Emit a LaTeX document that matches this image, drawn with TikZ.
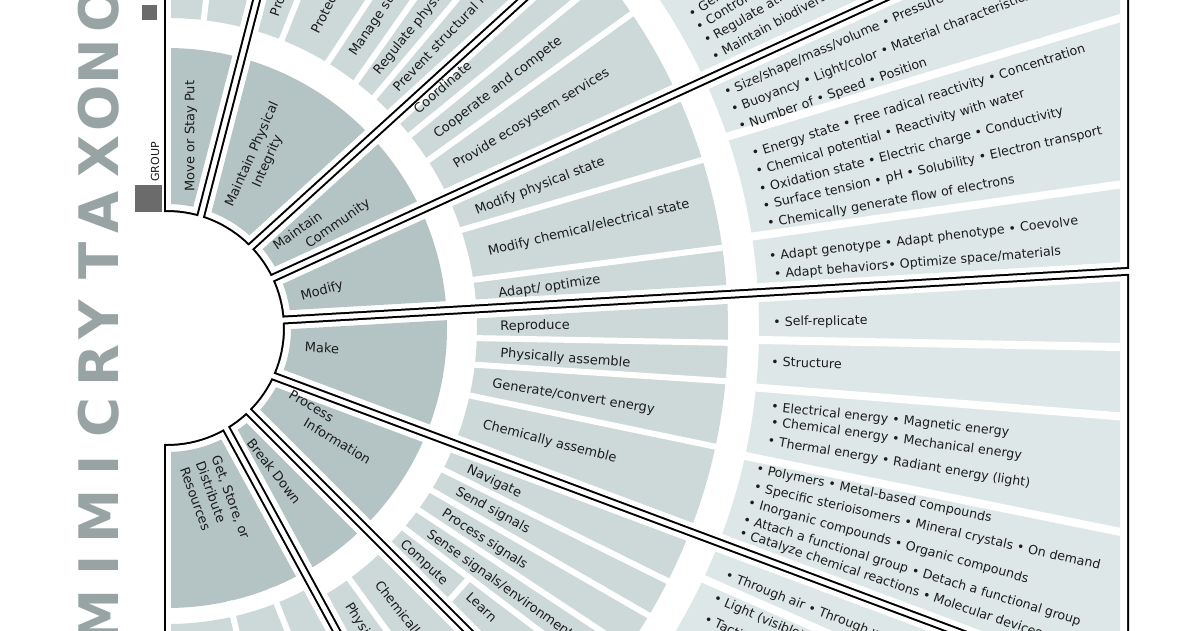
\documentclass[tikz,border=0pt]{standalone}
\usepackage{fontspec}
\setmainfont{DejaVu Sans}
\usetikzlibrary{calc}

\definecolor{ringa}{RGB}{180,196,196}
\definecolor{ringb}{RGB}{205,217,217}
\definecolor{ringc}{RGB}{222,231,231}
\definecolor{titlegray}{RGB}{152,164,164}
\definecolor{boxgray}{RGB}{107,107,107}
\definecolor{inktext}{RGB}{28,28,28}

\tikzset{
	grouplabel/.style={font=\fontsize{7.4}{9.6}\selectfont, text=inktext, inner sep=0pt},
	subtext/.style={font=\fontsize{7.4}{9}\selectfont, text=inktext, anchor=west, inner sep=0pt},
	bullet/.style={font=\fontsize{7.2}{8.6}\selectfont, text=inktext, anchor=west, inner sep=0pt},
	gapb/.style={white, line width=0.12cm},
	gapc/.style={white, line width=0.16cm},
	titleletter/.style={font=\fontsize{31}{31}\selectfont\bfseries, text=titlegray, rotate=90, anchor=base, inner sep=0pt},
}

% borders of one group, moved inwards by #5
\newcommand{\setwedge}[5]{%
	\coordinate (ua) at ($(#1)+(#2-90:#5)$);
	\coordinate (la) at ($(#3)+(#4+90:#5)$);
	\coordinate (ub) at ($(ua)+(#2:100)$);
	\coordinate (lb) at ($(la)+(#4:100)$);
	\coordinate (wx) at ($(ua)!(0,0)!(ub)$);
	\coordinate (wy) at ($(la)!(0,0)!(lb)$);
	\coordinate (uf) at ($(ua)+(#2:2500)$);
	\coordinate (lf) at ($(la)+(#4:2500)$);
}
% one group: frame, rings, gaps (#6), texts (#7)
\newcommand{\drawgroup}[7]{%
	\begin{scope}
		\setwedge{#1}{#2}{#3}{#4}{2.5}
		\clip (wx) -- (uf) -- (lf) -- (wy) -- cycle;
		\fill[black, even odd rule] (-300,-500) rectangle (962,500) (0,0) circle (116);
	\end{scope}
	\begin{scope}
		\setwedge{#1}{#2}{#3}{#4}{4.5}
		\clip (wx) -- (uf) -- (lf) -- (wy) -- cycle;
		\fill[white, even odd rule] (-300,-500) rectangle (960,500) (0,0) circle (118);
	\end{scope}
	\begin{scope}
		\setwedge{#1}{#2}{#3}{#4}{9.5}
		\clip (wx) -- (uf) -- (lf) -- (wy) -- cycle;
		\clip (-300,-500) rectangle (953,500);
		\fill[ringa, even odd rule] (0,0) circle (280) (0,0) circle (124);
		\fill[ringb, even odd rule] (0,0) circle (561) (0,0) circle (#5);
		\fill[ringc, even odd rule] (0,0) circle (2000) (0,0) circle (592);
		#6
	\end{scope}
	\begin{scope}
		\setwedge{#1}{#2}{#3}{#4}{4.5}
		\clip (wx) -- (uf) -- (lf) -- (wy) -- cycle;
		#7
	\end{scope}
}

\begin{document}
\begin{tikzpicture}[x=0.02cm, y=0.02cm]
	\useasboundingbox (-167,-302) rectangle (1033,328);
	\clip (-167,-302) rectangle (1033,328);
	% title
		\foreach \ch/\ty [count=\i] in {M/-288, I/-237, M/-188, I/-137, C/-90, R/-38, Y/8, T/67, A/116, X/172, O/220, N/266, O/319}
			\node[titleletter] (title-\i) at (-49,\ty) {\ch};
		\fill[boxgray] (-25,308) rectangle (-10,323);
		\fill[boxgray] (-32,116) rectangle (-5,143);
		\node[font=\fontsize{6.3}{6.3}\selectfont, text=inktext, rotate=90, anchor=base, inner sep=0pt] (grouptag) at (-8,166) {GROUP};
	% move or stay put
	\drawgroup{-5.5,0}{90}{34,113}{75.5}{310}{
		\draw[gapb] (83.2:300) -- (83.2:575);
	}{
		\node[grouplabel, rotate=90] (msp) at (24,192) {Move or Stay Put};
	}
	% maintain physical integrity
	\drawgroup{34,113}{75.5}{86,83}{42.3}{310}{
		\draw[gapb] (68.3:300) -- (68.3:575);
		\draw[gapb] (58.9:300) -- (57.8:575);
		\draw[gapb] (52.4:300) -- (53.6:575);
		\draw[gapb] (48:300) -- (48.9:575);
	}{
		\node[grouplabel, rotate=66, align=center] (mpi) at (93,170) {Maintain Physical\\Integrity};
		\node[subtext, rotate=71] (mpi-1) at (70.9:330) {Protect from living threats};
		\node[subtext, rotate=63.5] (mpi-2) at (63.3:330) {Protect from non-living threats};
		\node[subtext, rotate=56] (mpi-3) at (55.8:330) {Manage structural forces};
		\node[subtext, rotate=51] (mpi-4) at (50.6:330) {Regulate physiological processes};
		\node[subtext, rotate=46.5] (mpi-5) at (46.3:330) {Prevent structural failure};
	}
	% maintain community
	\drawgroup{86,83}{42.3}{108,51}{24.6}{310}{
		\draw[gapb] (38.4:300) -- (38.8:575);
		\draw[gapb] (32.6:300) -- (34.1:575);
	}{
		\node[grouplabel, rotate=35, align=left] (mc) at (155,103) {Maintain\\\hspace*{2.1em}Community};
		\node[subtext, rotate=41] (mc-1) at (41.2:330) {Coordinate};
		\node[subtext, rotate=37.5] (mc-2) at (35.6:330) {Cooperate and compete};
		\node[subtext, rotate=31.5] (mc-3) at (29.4:330) {Provide ecosystem services};
		\node[bullet, rotate=32] (mc-a1) at (31:609) {• Generate soil};
		\node[bullet, rotate=31] (mc-a2) at (29.6:609) {• Control erosion};
		\node[bullet, rotate=30] (mc-a3) at (28:609) {• Regulate atmosphere};
		\node[bullet, rotate=28.7] (mc-a4) at (26.3:609) {• Maintain biodiversity};
	}
	% modify
	\drawgroup{108,51}{24.6}{117,8}{3.3}{310}{
		\draw[gapb] (18.5:300) -- (17.4:575);
		\draw[gapb] (9:300) -- (8.2:575);
		\draw[gapc] (18.9:580) -- (17.9:1100);
		\draw[gapc] (8.9:580) -- (8.5:1100);
	}{
		\node[grouplabel, rotate=15] (mod) at (155,37) {Modify};
		\node[subtext, rotate=21] (mod-1) at (20.8:330) {Modify physical state};
		\node[subtext, rotate=13.5] (mod-2) at (13.3:330) {Modify chemical/electrical state};
		\node[subtext, rotate=8] (mod-3) at (5.8:333) {Adapt/ optimize};
		\node[bullet, rotate=23.7] (mod-a1) at (22.8:605) {• Size/shape/mass/volume • Pressure};
		\node[bullet, rotate=21] (mod-a2) at (21.1:605) {• Buoyancy • Light/color • Material characteristics};
		\node[bullet, rotate=19.2] (mod-a3) at (19.3:606) {• Number of • Speed • Position};
		\node[bullet, rotate=17.7] (mod-b1) at (16.5:610) {• Energy state • Free radical reactivity • Concentration};
		\node[bullet, rotate=16.3] (mod-b2) at (14.8:609) {• Chemical potential • Reactivity with water};
		\node[bullet, rotate=14.5] (mod-b3) at (13.1:608) {• Oxidation state • Electric charge • Conductivity};
		\node[bullet, rotate=12.6] (mod-b4) at (11.5:608) {• Surface tension • pH • Solubility • Electron transport};
		\node[bullet, rotate=10.2] (mod-b5) at (9.8:609) {• Chemically generate flow of electrons};
		\node[bullet, rotate=6.6] (mod-c1) at (6.7:606) {• Adapt genotype • Adapt phenotype • Coevolve};
		\node[bullet, rotate=4.6] (mod-c2) at (5:609) {• Adapt behaviors• Optimize space/materials};
	}
	% make
	\drawgroup{117,8}{3.3}{90,-42}{-20.5}{310}{
		\draw[gapb] (-1.9:300) -- (-1.5:575);
		\draw[gapb] (-6.9:300) -- (-5.4:575);
		\draw[gapb] (-12.6:300) -- (-12.2:575);
		\draw[gapc] (-1.16:580) -- (-1.14:1100);
		\draw[gapc] (-5.8:580) -- (-5.2:1100);
		\draw[gapc] (-12.5:580) -- (-12:1100);
	}{
		\node[grouplabel, rotate=-3] (make) at (155,-20) {Make};
		\node[subtext, rotate=1] (make-1) at (0.2:333) {Reproduce};
		\node[subtext, rotate=-4.5] (make-2) at (-4.4:334) {Physically assemble};
		\node[subtext, rotate=-9] (make-3) at (-9.8:330) {Generate/convert energy};
		\node[subtext, rotate=-14.5] (make-4) at (-17:330) {Chemically assemble};
		\node[bullet, rotate=0.9] (make-a1) at (0.5:606) {• Self-replicate};
		\node[bullet, rotate=-1.75] (make-b1) at (-3.2:605) {• Structure};
		\node[bullet, rotate=-6] (make-c1) at (-7.5:609) {• Electrical energy • Magnetic energy};
		\node[bullet, rotate=-7.6] (make-c2) at (-8.9:611) {• Chemical energy • Mechanical energy};
		\node[bullet, rotate=-9.2] (make-c3) at (-10.7:611) {• Thermal energy • Radiant energy (light)};
		\node[bullet, rotate=-11.8] (make-d1) at (-13.5:606) {• Polymers • Metal-based compounds};
		\node[bullet, rotate=-12.8] (make-d2) at (-15.2:608) {• Specific sterioisomers • Mineral crystals • On demand};
		\node[bullet, rotate=-15.2] (make-d3) at (-16.8:607) {• Inorganic compounds • Organic compounds};
		\node[bullet, rotate=-16.9] (make-d4) at (-18.4:607) {• Attach a functional group • Detach a functional group};
		\node[bullet, rotate=-18.6] (make-d5) at (-19.7:608) {• Catalyze chemical reactions • Molecular devices};
	}
	% process information
	\drawgroup{90,-42}{-20.5}{83,-85}{-45}{310}{
		\draw[gapb] (-27.2:300) -- (-26.8:575);
		\draw[gapb] (-31.6:300) -- (-30.8:575);
		\draw[gapb] (-36:300) -- (-34.8:575);
		\draw[gapb] (-40.3:300) -- (-38.8:575);
		\draw[gapb] (-41.85:392) ++(48:-14) -- ++(48:28);
		\draw[gapc] (-25.1:580) -- (-24.4:1100);
	}{
		\node[grouplabel, rotate=-31, align=left] (pi) at (163,-99) {Process\\\hspace*{2.1em}Information};
		\node[subtext, rotate=-25] (pi-1) at (-25.2:332) {Navigate};
		\node[subtext, rotate=-28.5] (pi-2) at (-29.4:332) {Send signals};
		\node[subtext, rotate=-33] (pi-3) at (-33.8:332) {Process signals};
		\node[subtext, rotate=-35.5] (pi-4) at (-38.2:332) {Sense signals/environment};
		\node[subtext, rotate=-43] (pi-5) at (-42.4:318) {Compute};
		\node[subtext, rotate=-43] (pi-6) at (-41.5:402) {Learn};
		\node[bullet, rotate=-21.3] (pi-a1) at (-23.9:611) {• Through air • Through water};
		\node[bullet, rotate=-23.2] (pi-b1) at (-26.3:610) {• Light (visible)};
		\node[bullet, rotate=-25] (pi-b2) at (-28.3:611) {• Tactile};
	}
	% break down
	\drawgroup{83,-85}{-45}{60,-102}{-61.4}{310}{
		\draw[gapb] (-54:300) -- (-54:575);
	}{
		\node[grouplabel, rotate=-52] (bd) at (107,-143) {Break Down};
		\node[subtext, rotate=-52] (bd-1) at (-50.5:330) {Chemically break down};
		\node[subtext, rotate=-58] (bd-2) at (-56.8:330) {Physically break down};
	}
	% get, store, or distribute resources
	\drawgroup{60,-102}{-61.4}{-5.5,0}{-90}{296}{
		\draw[gapb] (-68.3:280) -- (-68.3:575);
		\draw[gapb] (-77.1:280) -- (-77.1:575);
	}{
		\node[grouplabel, rotate=-70, align=left] (gsd) at (48,-175) {Get, Store, or\\Distribute\\Resources};
	}
\end{tikzpicture}
\end{document}
